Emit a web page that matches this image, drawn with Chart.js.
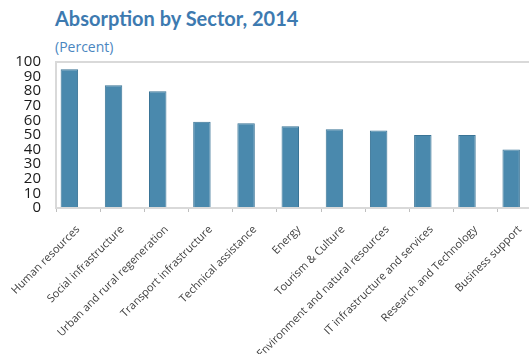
<!DOCTYPE html>
<html>
<head>
<meta charset="utf-8">
<script src="https://cdn.jsdelivr.net/npm/chart.js@4"></script>
<style>
  html, body { margin: 0; padding: 0; background: #fff; overflow: hidden; width: 529px; height: 354px; }
  #wrap { position: absolute; left: 0; top: 0; width: 548px; height: 354px; }
  .title { position: absolute; left: 55px; top: 6px; font: bold 20px "Lato", sans-serif; color: #3d7ab0; white-space: nowrap; }
  .sub { position: absolute; left: 55px; top: 37px; font: 14px "Open Sans", sans-serif; color: #4a86bf; }
</style>
</head>
<body>
<div class="title">Absorption by Sector, 2014</div>
<div class="sub">(Percent)</div>
<div id="wrap"><canvas id="barChart" width="548" height="354"></canvas></div>
<script>
var sectors = ["Human resources", "Social infrastructure", "Urban and rural regeneration",
    "Transport infrastructure", "Technical assistance", "Energy", "Tourism & Culture",
    "Environment and natural resources", "IT infrastructure and services",
    "Research and Technology", "Business support"];
var absorption = [95, 84, 80, 59, 58, 56, 54, 53, 50, 50, 40];
var yTicks = [0, 10, 20, 30, 40, 50, 60, 70, 80, 90, 100];

// the top edge of the plot box is drawn as the 100 gridline
var boxColor = "#d9d9d9";

var ctx = document.getElementById("barChart").getContext("2d");
new Chart(ctx, {
    type: 'bar',
    data: {
        labels: sectors,
        datasets: [
            {
                label: "Absorption",
                data: absorption,
                backgroundColor: "#4a89ad",
                borderColor: "#3a7496",
                borderWidth: 1,
                categoryPercentage: 0.79,
                barPercentage: 1
            },
            {
                // empty second series, keeps bars on the left of each category
                label: "",
                data: [],
                categoryPercentage: 0.79,
                barPercentage: 1
            }
        ]
    },
    options: {
        responsive: false,
        animation: false,
        layout: { padding: { left: 13, top: 62, right: 6, bottom: 0 } },
        plugins: {
            legend: { display: false },
            tooltip: { enabled: false }
        },
        scales: {
            x: {
                // let the first slanted label hang out to the left
                afterFit: function (scale) { scale.paddingLeft = 0; },
                grid: {
                    offset: true,
                    drawOnChartArea: false,
                    tickLength: 4,
                    color: "#bfbfbf"
                },
                border: { color: boxColor, width: 2 },
                ticks: {
                    minRotation: 45,
                    maxRotation: 45,
                    padding: 11,
                    color: "#404040",
                    font: { family: "Open Sans", size: 11 }
                }
            },
            y: {
                min: 0,
                max: 100,
                // tick padding is counted twice by fit(), keep the axis narrow
                afterFit: function (scale) { scale.width = 43; },
                afterBuildTicks: function (axis) {
                    axis.ticks = yTicks.map(function (v) { return { value: v }; });
                },
                grid: {
                    drawTicks: false,
                    color: function (c) { return c.tick && c.tick.value === 100 ? boxColor : "rgba(0,0,0,0)"; },
                    lineWidth: 2
                },
                border: { color: boxColor, width: 2 },
                ticks: {
                    autoSkip: false,
                    padding: 15,
                    color: "#1a1a1a",
                    font: { family: "Open Sans", size: 15 }
                }
            }
        }
    }
});
</script>
</body>
</html>
